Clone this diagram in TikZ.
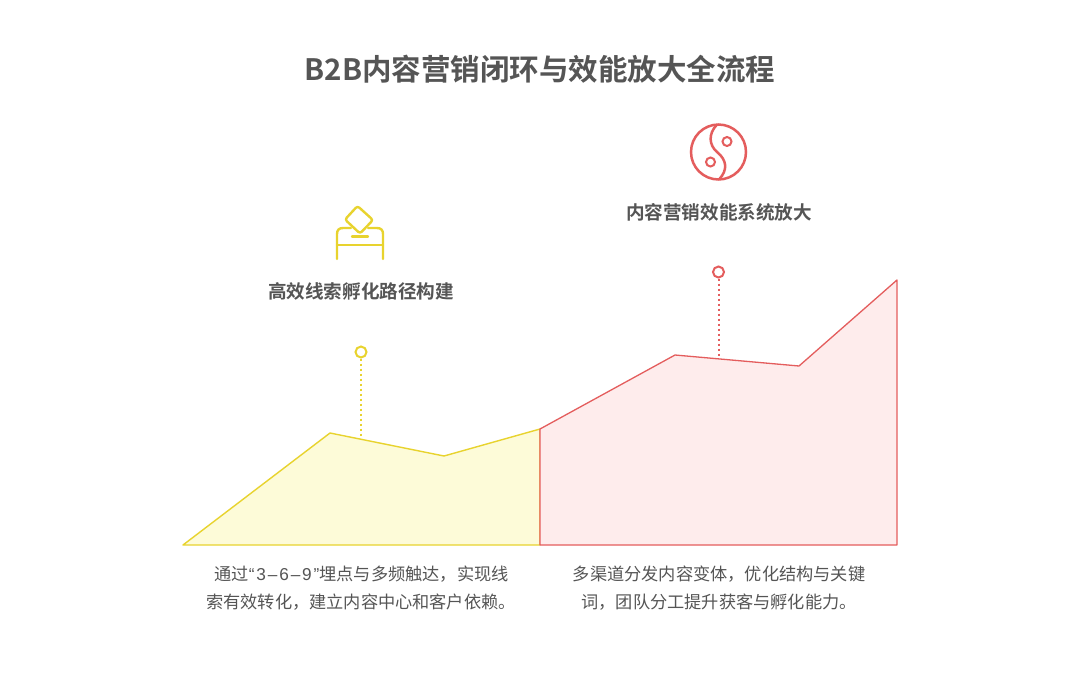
\documentclass[tikz,border=0pt]{standalone}
\usepackage{fontspec}
\setmainfont{Noto Sans CJK SC}
\newfontfamily\medcjk{Noto Sans CJK SC Medium}
\newfontfamily\boldcjk{Noto Sans CJK SC Bold}
\newfontfamily\latinbody[LetterSpace=11]{Liberation Sans}
\definecolor{ylw}{HTML}{E8D32E}
\definecolor{ylwfill}{HTML}{FDFBD8}
\definecolor{rd}{HTML}{E45D5D}
\definecolor{rdfill}{HTML}{FEECEC}
\definecolor{txt}{HTML}{555555}
\tikzset{
  titletext/.style={text=txt,inner sep=0pt,font=\fontsize{29.5}{36}\selectfont\boldcjk},
  headtext/.style={text=txt,inner sep=0pt,font=\fontsize{18.6}{24}\selectfont\boldcjk},
  bodytext/.style={text=txt,inner sep=0pt,align=center,font=\fontsize{17.2}{28.500}\selectfont},
  icony/.style={draw=ylw,line width=2.4pt,line join=round,line cap=round},
  iconr/.style={draw=rd,line width=2.5pt},
  dot/.style={circle,fill=white,inner sep=0pt,minimum size=11pt,line width=2pt},
  stem/.style={line width=2pt,dash pattern=on 2pt off 3pt},
}
\begin{document}
\begin{tikzpicture}[x=1pt,y=-1pt]
\useasboundingbox[fill=white] (0,0) rectangle (1080,681);
\node[titletext] (title) at (540,69.500) {B2B内容营销闭环与效能放大全流程};
% areas
\draw[draw=ylw,fill=ylwfill,line width=1.4pt,line join=round] (183,545) -- (330,433) -- (444,456) -- (540,429) -- (540,545) -- cycle;
\draw[draw=rd,fill=rdfill,line width=1.3pt,line join=round] (540,545) -- (540,429) -- (675,355) -- (799,366) -- (897,280) -- (897,545) -- cycle;
% markers
\node[dot,draw=ylw] (dy) at (361,352) {};
\coordinate (by) at (361,437);
\draw[stem,draw=ylw] (dy.south) -- (by);
\node[dot,draw=rd] (dr) at (718.500,272) {};
\coordinate (br) at (718.500,357);
\draw[stem,draw=rd] (dr.south) -- (br);
% heads
\node[headtext] (h1) at (361,291) {高效线索孵化路径构建};
\node[headtext] (h2) at (719,212) {内容营销效能系统放大};
% body
\node[bodytext] (b1) at (361,588) {\hspace*{1pt}通过{\latinbody “3–6–9”}埋点与多频触达，实现线\\索有效转化，建立内容中心和客户依赖。};
\node[bodytext] (b2) at (719,588) {多渠道分发内容变体，优化结构与关键\\词，团队分工提升获客与孵化能力。};
% ballot icon
\draw[icony] (337,259) -- (337,234) .. controls (337,230) and (339,228) .. (343,228) -- (351,228);
\draw[icony] (368,228) -- (377,228) .. controls (381,228) and (383,230) .. (383,234) -- (383,259);
\draw[icony] (337,245) -- (383,245);
\draw[icony] (352,236.500) -- (368,236.500);
\draw[icony,rounded corners=2.5pt] (357.500,206) -- (373,220) -- (360,233.500) -- (345,219.500) -- cycle;
% yin-yang icon
\draw[iconr] (718.500,152) circle (27.500);
\draw[iconr] (717,124.500) .. controls (708,134) and (709,145) .. (717,152) .. controls (727,160) and (728,170) .. (719,179.500);
\draw[iconr,line width=2pt] (727,141.500) circle (4.500);
\draw[iconr,line width=2pt] (710.500,162) circle (4.500);
\end{tikzpicture}
\end{document}
